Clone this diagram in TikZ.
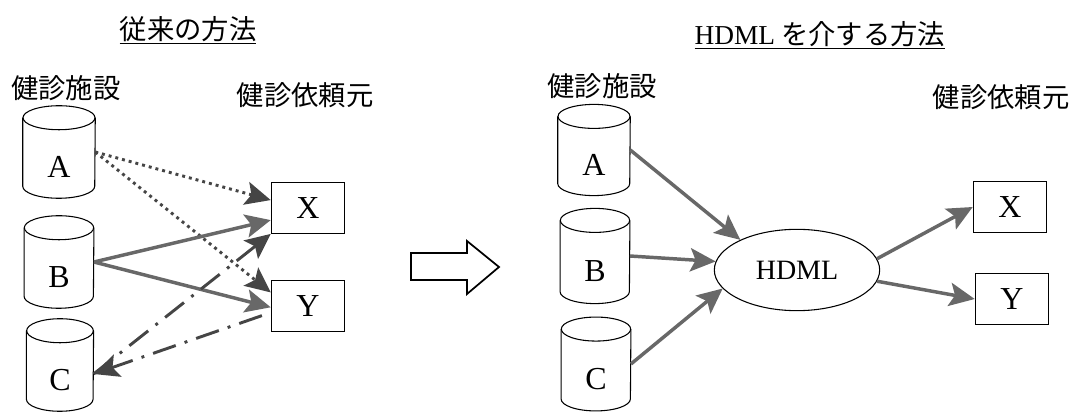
\documentclass[tikz,border=0pt]{standalone}
\usepackage{fontspec}
\setmainfont{Liberation Serif}
\newfontfamily\jpfont{Noto Sans CJK JP}
\usetikzlibrary{shapes.geometric,arrows.meta}
\definecolor{link}{HTML}{686868}
\definecolor{linkdark}{HTML}{454545}
% outline of a database drum round a named node: #1 node, #2 half width
\newcommand\dbdraw[2]{%
  \draw[line width=.8pt] ([yshift=-9pt]#1.north west) -- ([yshift=9pt]#1.south west)
    arc[start angle=180,end angle=360,x radius=#2,y radius=9pt] -- ([yshift=-9pt]#1.north east);
  \draw[line width=.8pt] ([yshift=-9pt]#1.north) ellipse[x radius=#2,y radius=9pt];}

\begin{document}
\begin{tikzpicture}[x=.75pt,y=-.75pt,
  letter/.style={font=\fontsize{24}{26}\selectfont},
  db/.style={minimum width=52pt,minimum height=69pt,inner sep=0pt,label={[letter,yshift=-11pt]center:#1}},
  box/.style={draw,line width=.9pt,minimum width=55pt,minimum height=38pt,letter},
  lab/.style={font=\jpfont\fontsize{20.5}{24}\selectfont},
  tipA/.style={-{Stealth[length=19pt,width=17.5pt,inset=4pt]}},
  link/.style={draw=link,line width=2.6pt,tipA},
  dots/.style={draw=linkdark,line width=2.2pt,dash pattern=on 2.2pt off 3pt,tipA},
  dashdot/.style={draw=linkdark,line width=2.2pt,dash pattern=on 18pt off 7pt on 2.2pt off 7pt,tipA}]
\useasboundingbox (0,0) rectangle (1076,413);
% left: conventional
\node[lab] (tl) at (188,30) {\underline{従来の方法}};
\node[lab] (fl) at (66,88) {健診施設};
\node[lab] (cl) at (305,95) {健診依頼元};
\node[db=A,minimum width=54pt] (lA) at (59,152) {};
\node[db=B] (lB) at (59,262) {};
\node[db=C,minimum width=50pt] (lC) at (60,365) {};
\dbdraw{lA}{27pt} \dbdraw{lB}{26pt} \dbdraw{lC}{25pt}
\node[box] (lX) at (308,208) {X};
\node[box] (lY) at (308,306) {Y};
\draw[dots] (lA.east) -- (lX.168);
\draw[dots] (lA.east) -- (lY.160);
\draw[link] (lB.east) -- (lX.198);
\draw[link] (lB.east) -- (lY.182);
\draw[dashdot] (lC.-15) -- (lX.south west);
\draw[dashdot,dash phase=27.2pt] (lY.190) -- (lC.-15);
% block arrow
\draw[line width=1.3pt,line join=miter] (411,253) -- (467,253) -- (467,241) -- (499,267) -- (467,294) -- (467,280) -- (411,280) -- cycle;
% right: via HDML
\node[lab] (tr) at (820,35) {\underline{{\rmfamily HDML} を介する方法}};
\node[lab] (fr) at (602,86) {健診施設};
\node[lab] (cr) at (1001,97) {健診依頼元};
\node[db=A,minimum width=54pt,minimum height=68pt] (rA) at (594,150) {};
\node[db=B,minimum height=71pt] (rB) at (595,256) {};
\node[db=C,minimum height=70pt] (rC) at (596,364) {};
\dbdraw{rA}{27pt} \dbdraw{rB}{26pt} \dbdraw{rC}{26pt}
\node[draw,line width=.8pt,ellipse,minimum width=124pt,minimum height=61pt,inner sep=0pt,font=\fontsize{21}{23}\selectfont] (hdml) at (797,270) {HDML};
\node[box] (rX) at (1010,207) {X};
\node[box] (rY) at (1012,299) {Y};
\draw[link] (rA.east) -- (hdml.152);
\draw[link] (rB.east) -- (hdml.174);
\draw[link] (rC.east) -- (hdml.194);
\draw[link] (hdml.8) -- (rX.west);
\draw[link] (hdml.-8) -- (rY.west);
\end{tikzpicture}
\end{document}
